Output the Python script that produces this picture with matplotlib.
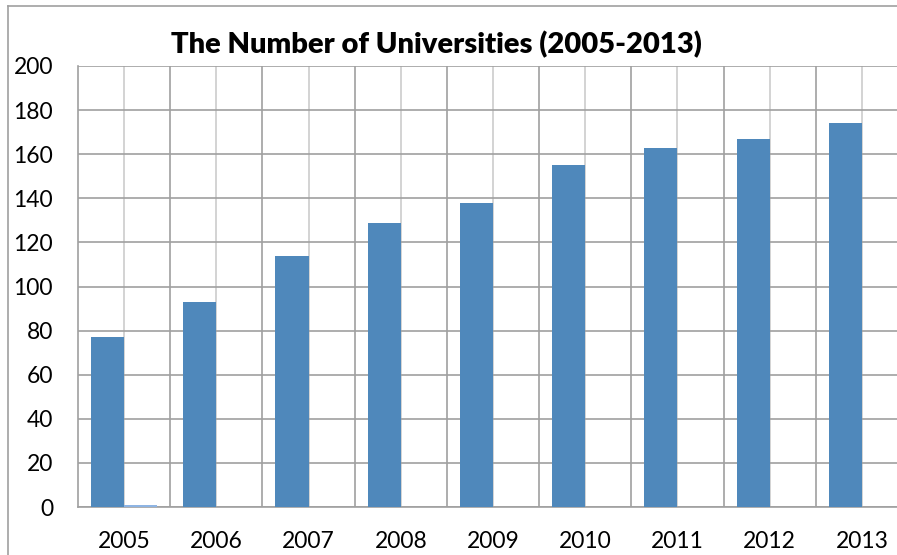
import matplotlib
matplotlib.use('Agg')
import matplotlib.pyplot as plt
import numpy as np

plt.rcParams['font.family'] = ['Lato', 'DejaVu Sans']

years = ['2005', '2006', '2007', '2008', '2009', '2010', '2011', '2012', '2013']
universities = [77, 93, 114, 129, 138, 155, 163, 167, 174]
# second series is empty apart from a stray value in 2005
extra = [1, 0, 0, 0, 0, 0, 0, 0, 0]
y_ticks = list(range(0, 201, 20))

fig = plt.figure(figsize=(8.97, 5.55), dpi=100)
ax = fig.add_axes([78 / 897, 48 / 555, 1 - 78 / 897, (507 - 66) / 555])

x = np.arange(len(years))
w = 0.36
ax.bar(x - w / 2, universities, width=w, color='#4F88BB', zorder=3)
ax.bar(x + w / 2, extra, width=w, color='#8EB4E3', zorder=3)

ax.set_xlim(-0.5, 8.38)
ax.set_ylim(0, 200)
ax.set_yticks(y_ticks)
ax.set_xticks(x)
ax.set_xticklabels(years)

# horizontal grid plus vertical lines at category centres and boundaries
ax.grid(axis='y', color='#a0a0a0', linewidth=1.2, zorder=0)
for i in x:
    ax.axvline(i, color='#cccccc', linewidth=1.2, zorder=1)
    ax.axvline(i + 0.5, color='#a0a0a0', linewidth=1.2, zorder=1)

for s in ['top', 'right']:
    ax.spines[s].set_visible(False)
for s in ['left', 'bottom']:
    ax.spines[s].set_color('#a0a0a0')
    ax.spines[s].set_linewidth(1.2)

ax.tick_params(axis='both', length=0, labelsize=16.5, colors='black')
ax.tick_params(axis='y', pad=18)
ax.tick_params(axis='x', pad=17)

fig.text(436 / 897, 1 - 45 / 555, 'The Number of Universities (2005-2013)',
         ha='center', va='center', fontsize=21, fontweight='heavy')

# outer chart frame (top and left edges)
fig.add_artist(plt.Line2D([8 / 897, 1], [1 - 6 / 555, 1 - 6 / 555],
                          color='#a0a0a0', linewidth=1.2))
fig.add_artist(plt.Line2D([8 / 897, 8 / 897], [0, 1 - 6 / 555],
                          color='#a0a0a0', linewidth=1.2))

fig.savefig('out.png', dpi=100)
